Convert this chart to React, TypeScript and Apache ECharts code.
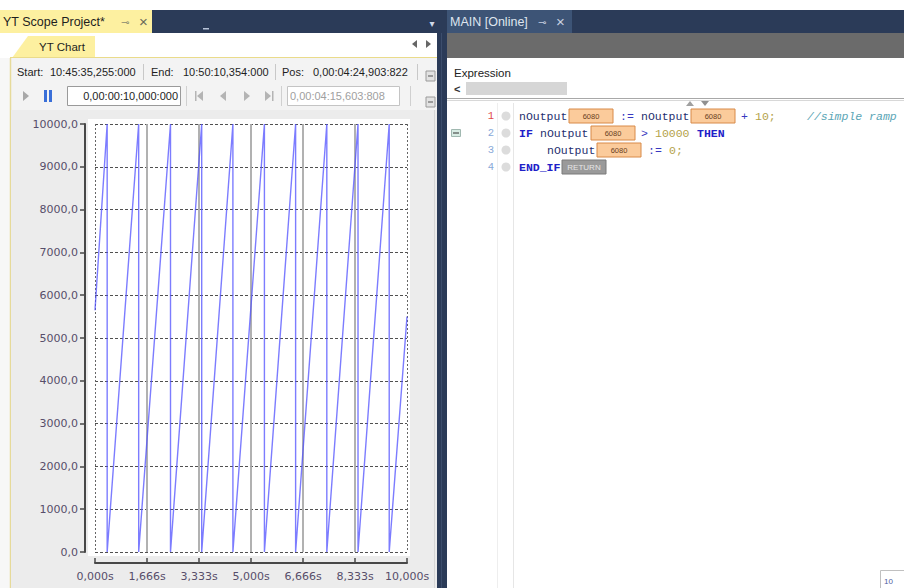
import React, { useEffect, useRef } from 'react';
import * as echarts from 'echarts';

// ---- chart data ----
const sampleTimes = [0, 0.39, 0.39, 1.40, 1.40, 2.42, 2.42, 3.42, 3.42, 4.42, 4.42, 5.43, 5.43, 6.43, 6.43, 7.43, 7.43, 8.43, 8.43, 9.43, 9.43, 10.0];
const sampleValues = [5650, 10000, 0, 10000, 0, 10000, 0, 10000, 0, 10000, 0, 10000, 0, 10000, 0, 10000, 0, 10000, 0, 10000, 0, 5500];
const xRange = [0, 10];
const xStep = 10 / 6;
const yRange = [0, 10000];
const yStep = 1000;

// ---- surrounding IDE texts ----
const startLabel = 'Start:';
const startValue = '10:45:35,255:000';
const endLabel = 'End:';
const endValue = '10:50:10,354:000';
const posLabel = 'Pos:';
const posValue = '0,00:04:24,903:822';
const spanValue = '0,00:00:10,000:000';
const cursorValue = '0,00:04:15,603:808';
const lineNumbers = ['1', '2', '3', '4'];

const UI = '"Liberation Sans", Arial, sans-serif';
const MONO = '"Liberation Mono", "DejaVu Sans Mono", monospace';
const AXISF = '"DejaVu Sans", Verdana, sans-serif';

type O = { fill?: string; size?: number; font?: string; weight?: string; style?: string; align?: string };
const T = (x: number, y: number, text: string, o: O = {}) => ({
  type: 'text', x, y, silent: true,
  style: {
    text, fill: o.fill || '#1e1e1e', fontSize: o.size || 11, fontFamily: o.font || UI,
    fontWeight: o.weight || 'normal', fontStyle: o.style || 'normal',
    align: o.align || 'left', verticalAlign: 'middle',
  },
});
const R = (x: number, y: number, w: number, h: number, fill: string, stroke?: string, lw = 1) => ({
  type: 'rect', silent: true, shape: { x, y, width: w, height: h },
  style: stroke ? { fill, stroke, lineWidth: lw } : { fill },
});
const L = (x1: number, y1: number, x2: number, y2: number, stroke: string, lw = 1) => ({
  type: 'line', silent: true, shape: { x1, y1, x2, y2 }, style: { stroke, lineWidth: lw },
});
const P = (points: number[][], fill: string) => ({ type: 'polygon', silent: true, shape: { points }, style: { fill } });
const C = (cx: number, cy: number, r: number, fill: string) => ({ type: 'circle', silent: true, shape: { cx, cy, r }, style: { fill } });

const valBox = (x: number, y: number, w: number, label: string) => [
  R(x, y - 7, w, 14, '#fbcb9b', '#d88a48', 1),
  T(x + w / 2, y, label, { size: 7.5, align: 'center', fill: '#6a4020' }),
];

const KW = '#2020c8', VAR = '#1f2f6f', OP = '#3838c0', NUM = '#b4a24a', CMT = '#5aa5b5';

function buildGraphics() {
  const g: any[] = [];
  // page
  g.push(R(0, 0, 904, 588, '#ffffff'));
  // tab strip
  g.push(R(0, 10, 904, 23, '#2b3b58'));
  g.push(R(0, 10, 152, 23, '#fdf0a0'));
  g.push(T(3, 22, 'YT Scope Project*', { size: 12.5 }));
  g.push(T(121, 22, '⊸', { size: 10, fill: '#8a8a70', font: '"DejaVu Sans"' }));
  g.push(T(139, 21, '×', { size: 15, fill: '#6a6a5a' }));
  g.push(R(203, 28, 6, 1.5, '#b8c4d8'));
  g.push(T(432, 23, '▾', { size: 10, fill: '#d0d8e8', align: 'center', font: '"DejaVu Sans"' }));

  // left panel
  g.push(R(0, 33, 437, 555, '#f7f7f7'));
  g.push(R(0, 33, 437, 25, '#ffffff'));
  g.push(P([[12, 58], [28, 36], [95, 36], [95, 58]], '#fdf0a0'));
  g.push(T(62, 47, 'YT Chart', { size: 11.5, align: 'center' }));
  g.push(P([[417, 40], [417, 48], [412, 44]], '#666'));
  g.push(P([[426, 40], [426, 48], [431, 44]], '#666'));
  g.push(R(10, 57, 427, 1.5, '#eadb8a'));
  g.push(R(11, 58, 426, 52, '#f3f3f3'));
  g.push(L(10.5, 58, 10.5, 588, '#e6da9a', 1.5));
  // toolbar row 1
  g.push(T(17, 72, startLabel));
  g.push(T(50, 72, startValue));
  g.push(L(143.5, 64, 143.5, 80, '#c8c8c8'));
  g.push(T(151, 72, endLabel));
  g.push(T(183, 72, endValue));
  g.push(L(275.5, 64, 275.5, 80, '#c8c8c8'));
  g.push(T(282, 72, posLabel));
  g.push(T(313, 72, posValue));
  g.push(L(417.5, 64, 417.5, 80, '#c8c8c8'));
  g.push(R(426, 71, 9, 10, '#e2e2e2', '#9a9a9a'));
  g.push(L(428, 76, 433, 76, '#555'));
  // toolbar row 2
  g.push(P([[23, 91], [23, 101], [29, 96]], '#a8a8a8'));
  g.push(R(44, 90, 3, 12, '#3a6fd8'));
  g.push(R(49, 90, 3, 12, '#3a6fd8'));
  g.push(R(67.5, 86.5, 113, 19, '#ffffff', '#9a9a9a'));
  g.push(T(178, 96, spanValue, { align: 'right' }));
  g.push(L(186.5, 86, 186.5, 106, '#d0d0d0'));
  g.push(R(195, 91, 1.5, 10, '#b4b4b4'));
  g.push(P([[203, 91], [203, 101], [197, 96]], '#b4b4b4'));
  g.push(P([[226, 91], [226, 101], [220, 96]], '#b4b4b4'));
  g.push(P([[244, 91], [244, 101], [250, 96]], '#b4b4b4'));
  g.push(P([[265, 91], [265, 101], [271, 96]], '#b4b4b4'));
  g.push(R(272, 91, 1.5, 10, '#b4b4b4'));
  g.push(L(281.5, 86, 281.5, 106, '#d0d0d0'));
  g.push(R(287.5, 86.5, 112, 19, '#ffffff', '#c4c4c4'));
  g.push(T(290, 96, cursorValue, { fill: '#a0a0a0' }));
  g.push(L(410.5, 86, 410.5, 106, '#d0d0d0'));
  g.push(R(426, 97, 9, 10, '#e2e2e2', '#9a9a9a'));
  g.push(L(428, 102, 433, 102, '#555'));
  // chart background
  g.push(R(11, 110, 426, 478, '#ececec'));
  g.push(R(88, 119, 322, 437, '#ffffff'));
  g.push(L(434.5, 110, 434.5, 588, '#d6d6d6', 1));

  // divider
  g.push(R(437, 10, 10, 578, '#2b3b58'));
  g.push(L(441.5, 33, 441.5, 588, '#3c4d6c', 1));

  // right panel
  g.push(R(447, 10, 125, 23, '#3d5476'));
  g.push(T(450, 22, 'MAIN [Online]', { size: 12.5, fill: '#dfe5ef' }));
  g.push(T(538, 22, '⊸', { size: 10, fill: '#c8d0e0', font: '"DejaVu Sans"' }));
  g.push(T(556, 21, '×', { size: 15, fill: '#c8d0e0' }));
  g.push(R(447, 33, 457, 25, '#6b6b6b'));
  g.push(R(447, 58, 457, 530, '#ffffff'));
  g.push(T(454, 73, 'Expression', { size: 11.5, fill: '#222' }));
  g.push(T(454, 89, '<', { size: 11, fill: '#333', weight: 'bold' }));
  g.push(R(466, 82, 101, 13, '#d6d6d6'));
  g.push(L(447, 98.5, 904, 98.5, '#a8a8a8', 1));
  g.push(L(447, 100.5, 904, 100.5, '#d8d8d8', 1));
  g.push(P([[686, 106], [694, 106], [690, 101]], '#a0a0a0'));
  g.push(P([[701, 101], [709, 101], [705, 106]], '#909090'));
  // gutter
  g.push(L(497.5, 103, 497.5, 588, '#eeeeee', 1));
  g.push(L(513.5, 103, 513.5, 588, '#e6e6e6', 1));
  const rowY = [116, 133, 150, 167];
  lineNumbers.forEach((n, i) => {
    g.push(T(494, rowY[i], n, { size: 10.5, align: 'right', fill: i === 0 ? '#e04848' : '#88a8d8', font: MONO }));
    g.push(C(506, rowY[i], 4.5, '#dcdcdc'));
  });
  g.push(R(451.5, 129.5, 9, 7, '#d8ece4', '#a0b8b0'));
  g.push(L(453, 133, 459, 133, '#333', 1));

  const code: [number, number, string, string, string?][] = [
    [519, 0, 'nOutput', VAR], [620, 0, ':=', OP], [641, 0, 'nOutput', VAR], [741, 0, '+', OP], [755, 0, '10;', NUM],
    [807, 0, '//simple ramp', CMT, 'italic'],
    [519, 1, 'IF', KW, 'bold'], [540, 1, 'nOutput', VAR], [641, 1, '>', OP], [655, 1, '10000', NUM], [697, 1, 'THEN', KW, 'bold'],
    [547, 2, 'nOutput', VAR], [648, 2, ':=', OP], [669, 2, '0;', NUM],
    [519, 3, 'END_IF', KW, 'bold'],
  ];
  code.forEach(([x, r, s, col, st]) => {
    g.push(T(x, rowY[r], s, {
      font: MONO, size: 11.5, fill: col,
      weight: st === 'bold' ? 'bold' : 'normal', style: st === 'italic' ? 'italic' : 'normal',
    }));
  });
  g.push(...valBox(569, 116, 44, '6080'));
  g.push(...valBox(691, 116, 44, '6080'));
  g.push(...valBox(591, 133, 44, '6080'));
  g.push(...valBox(597, 150, 44, '6080'));
  g.push(R(562, 160, 44, 14, '#9a9a9a', '#7a7a7a'));
  g.push(T(584, 167, 'RETURN', { size: 8, align: 'center', fill: '#e6e6e6' }));

  // bottom-right status box
  g.push(R(880.5, 570.5, 30, 22, '#ffffff', '#c0c0c0'));
  g.push(T(884, 581, '10', { size: 8, fill: '#5060a0' }));
  return g.map((e) => ({ ...e, z: 0 }));
}

const fmtTime = (v: number) => {
  const ms = Math.floor(v * 1000 + 0.001);
  return (ms / 1000).toFixed(3).replace('.', ',') + 's';
};
const fmtVal = (v: number) => v.toFixed(1).replace('.', ',');

export default function App() {
  const ref = useRef<HTMLDivElement>(null);
  useEffect(() => {
    if (!ref.current) return;
    const chart = echarts.init(ref.current, undefined, { renderer: 'svg' });
    const data = sampleTimes.map((t, i) => [t, sampleValues[i]]);
    chart.setOption({
      animation: false,
      backgroundColor: '#ffffff',
      graphic: { elements: buildGraphics() },
      grid: { left: 95, right: 497, top: 124, bottom: 36, containLabel: false },
      xAxis: [
        {
          type: 'value', min: xRange[0], max: xRange[1], interval: xStep, z: 5,
          position: 'bottom', offset: 11,
          axisLine: { show: true, onZero: false, lineStyle: { color: '#484848', width: 2 } },
          axisTick: { show: true, inside: true, length: 5, lineStyle: { color: '#484848', width: 1.5 } },
          axisLabel: { formatter: fmtTime, margin: 8, color: '#574e6a', fontSize: 11, fontFamily: AXISF },
          splitLine: { show: true, showMinLine: false, showMaxLine: false, lineStyle: { color: '#a9a9a9', width: 1.8 } },
        },
        {
          type: 'value', min: xRange[0], max: xRange[1], interval: xRange[1] - xRange[0], z: 5,
          position: 'bottom', show: true,
          axisLine: { show: false, onZero: false }, axisTick: { show: false }, axisLabel: { show: false },
          splitLine: { show: true, lineStyle: { color: '#666666', width: 1, type: [2, 2] } },
        },
      ],
      yAxis: {
        type: 'value', min: yRange[0], max: yRange[1], interval: yStep, z: 5,
        position: 'left', offset: 10,
        axisLine: { show: true, onZero: false, lineStyle: { color: '#484848', width: 2 } },
        axisTick: { show: true, length: 5, lineStyle: { color: '#484848', width: 1.5 } },
        axisLabel: { formatter: fmtVal, margin: 7, color: '#574e6a', fontSize: 11, fontFamily: AXISF },
        splitLine: { show: true, lineStyle: { color: '#505050', width: 1.2, type: [3, 2] } },
      },
      series: [
        {
          type: 'line', xAxisIndex: 0, yAxisIndex: 0, data, showSymbol: false, z: 10,
          lineStyle: { color: 'rgba(80,80,255,0.75)', width: 1.4 },
          clip: true,
        },
      ],
    });
    return () => chart.dispose();
  }, []);
  return <div ref={ref} style={{ position: 'absolute', left: 0, top: 0, width: 904, height: 588 }} />;
}
